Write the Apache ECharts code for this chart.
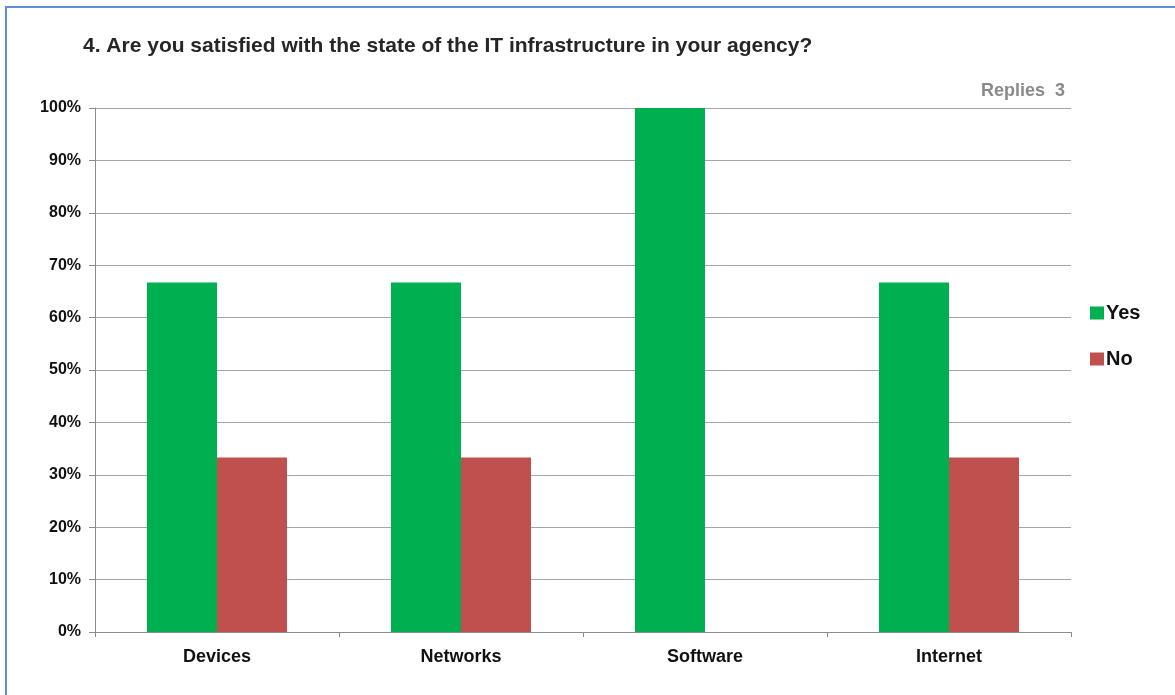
<!DOCTYPE html>
<html>
<head>
<meta charset="utf-8">
<script src="https://cdn.jsdelivr.net/npm/echarts@6/dist/echarts.min.js"></script>
<style>
  html, body { margin: 0; padding: 0; background: #fff; }
  #frame { position: absolute; left: 5px; top: 6px; width: 1200px; height: 720px; border-left: 2px solid #5b8fdc; border-top: 2px solid #5b8fdc; }
  #chart { position: absolute; left: 0; top: 0; width: 1175px; height: 695px; }
</style>
</head>
<body>
<div id="frame"></div>
<div id="chart"></div>
<script>
  // survey answers, share of replies in %
  var categories = ['Devices', 'Networks', 'Software', 'Internet']
  var yesValues = [66.7, 66.7, 100, 66.7]
  var noValues = [33.3, 33.3, 0, 33.3]
  var title = '4. Are you satisfied with the state of the IT infrastructure in your agency?'
  var repliesText = 'Replies  3'

  var font = '"Liberation Sans", Arial, sans-serif'
  var chart = echarts.init(document.getElementById('chart'))

  chart.setOption({
    animation: false,
    textStyle: { fontFamily: font },
    title: [{
      text: title,
      left: 78,
      top: 31,
      textStyle: { color: '#262626', fontSize: 21, fontWeight: 'bold', fontFamily: font }
    }, {
      text: repliesText,
      right: 105,
      top: 77,
      textStyle: { color: '#8a8a8a', fontSize: 18, fontWeight: 'bold', fontFamily: font }
    }],
    legend: {
      orient: 'vertical',
      left: 1085,
      top: 298,
      icon: 'rect',
      itemWidth: 14,
      itemHeight: 13,
      itemGap: 26,
      textStyle: { color: '#111', fontSize: 20, fontWeight: 'bold', fontFamily: font, padding: [0, 0, 0, -3] },
      data: ['Yes', 'No']
    },
    grid: {
      left: 95,
      right: 104,
      top: 108,
      bottom: 63
    },
    xAxis: {
      type: 'category',
      data: categories,
      axisLine: { lineStyle: { color: '#8c8c8c', width: 1 } },
      axisTick: { show: true, length: 5, lineStyle: { color: '#8c8c8c' } },
      axisLabel: { color: '#111', fontSize: 18, fontWeight: 'bold', margin: 16, fontFamily: font }
    },
    yAxis: {
      type: 'value',
      min: 0,
      max: 100,
      interval: 10,
      axisLine: { show: true, lineStyle: { color: '#8c8c8c', width: 1 } },
      axisTick: { show: true, length: 6, lineStyle: { color: '#8c8c8c' } },
      axisLabel: { formatter: '{value}%', color: '#111', fontSize: 16, fontWeight: 'bold', margin: 14, fontFamily: font },
      splitLine: { lineStyle: { color: '#a6a6a6', width: 1 } }
    },
    series: [{
      name: 'Yes',
      type: 'bar',
      data: yesValues,
      barGap: 0,
      barCategoryGap: '42.6%',
      itemStyle: { color: '#00b050' }
    }, {
      name: 'No',
      type: 'bar',
      data: noValues,
      itemStyle: { color: '#c0504d' }
    }]
  })
</script>
</body>
</html>
